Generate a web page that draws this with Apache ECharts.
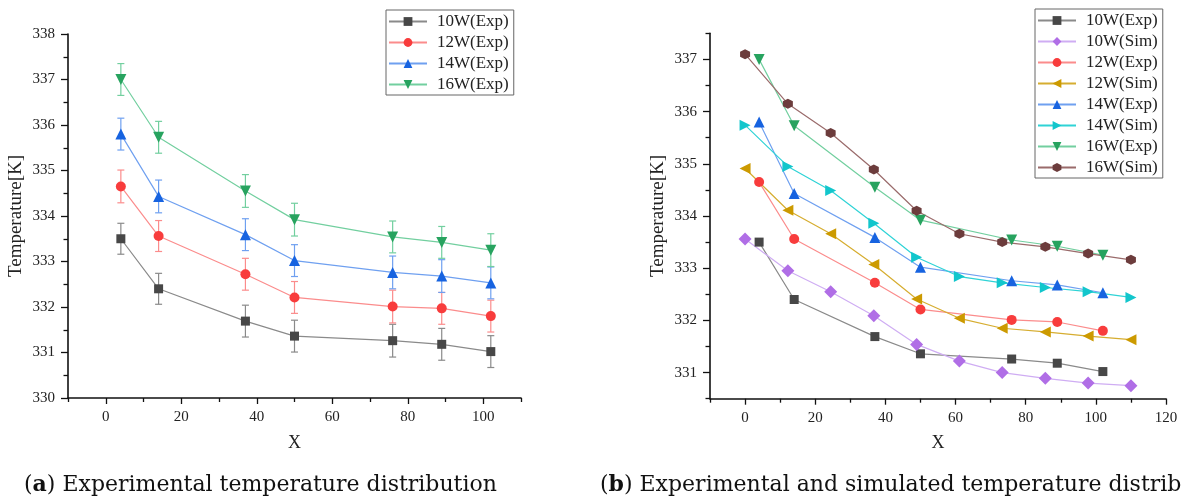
<!DOCTYPE html>
<html>
<head>
<meta charset="utf-8">
<script src="https://cdn.jsdelivr.net/npm/echarts@6/dist/echarts.min.js"></script>
<style>
html,body{margin:0;padding:0;background:#fff;}
#c{width:1182px;height:498px;}
</style>
</head>
<body>
<div id="c"></div>
<script>
// ---------- data ----------
const xExp = [4, 14, 37, 50, 76, 89, 102];
const xSim = [0, 12.2, 24.4, 36.7, 48.9, 61.1, 73.3, 85.6, 97.8, 110];

const exp10 = [333.50, 332.40, 331.69, 331.36, 331.26, 331.18, 331.02];
const exp12 = [334.65, 333.56, 332.72, 332.21, 332.01, 331.97, 331.80];
const exp14 = [335.80, 334.43, 333.59, 333.02, 332.76, 332.68, 332.53];
const exp16 = [337.00, 335.73, 334.55, 333.92, 333.54, 333.42, 333.25];

const err10 = [0.34, 0.34, 0.35, 0.35, 0.36, 0.35, 0.35];
const err12 = [0.36, 0.34, 0.35, 0.35, 0.36, 0.35, 0.35];
const err14 = [0.35, 0.36, 0.35, 0.35, 0.36, 0.36, 0.35];
const err16 = [0.35, 0.35, 0.36, 0.36, 0.35, 0.35, 0.36];

const sim10 = [333.56, 332.95, 332.55, 332.09, 331.54, 331.22, 331.00, 330.89, 330.80, 330.75];
const sim12 = [334.91, 334.11, 333.66, 333.07, 332.41, 332.04, 331.85, 331.78, 331.70, 331.63];
const sim14 = [335.74, 334.95, 334.49, 333.86, 333.21, 332.84, 332.72, 332.63, 332.55, 332.44];
const sim16 = [337.10, 336.15, 335.59, 334.89, 334.10, 333.66, 333.50, 333.41, 333.28, 333.16];

const namesA = ['10W(Exp)', '12W(Exp)', '14W(Exp)', '16W(Exp)'];
const namesB = ['10W(Exp)', '10W(Sim)', '12W(Exp)', '12W(Sim)', '14W(Exp)', '14W(Sim)', '16W(Exp)', '16W(Sim)'];

// tick labels / tick positions
const xTicksA = [0, 20, 40, 60, 80, 100];
const xMinorA = [-10, 10, 30, 50, 70, 90, 110];
const xTicksB = [0, 20, 40, 60, 80, 100, 120];
const xMinorB = [-10, 10, 30, 50, 70, 90, 110];
const yTicksA = [330, 331, 332, 333, 334, 335, 336, 337, 338];
const yMinorA = [330.5, 331.5, 332.5, 333.5, 334.5, 335.5, 336.5, 337.5];
const yTicksB = [331, 332, 333, 334, 335, 336, 337];
const yMinorB = [330.5, 331.5, 332.5, 333.5, 334.5, 335.5, 336.5, 337.5];

// ---------- styles ----------
const SYM = {
  square: 'rect',
  circle: 'circle',
  up: 'path://M5,0L10,9L0,9Z',
  down: 'path://M0,0L10,0L5,9Z',
  left: 'path://M0,5L9,0L9,10Z',
  right: 'path://M9,5L0,0L0,10Z',
  diamond: 'diamond',
  hex: 'path://M5,0L9.33,2.5L9.33,7.5L5,10L0.67,7.5L0.67,2.5Z'
};
const ST = {
  '10W(Exp)': {mk: '#474747', ln: '#8a8a8a', sym: SYM.square, size: 9},
  '12W(Exp)': {mk: '#f83c3c', ln: '#fb8c8c', sym: SYM.circle, size: 10},
  '14W(Exp)': {mk: '#1763e0', ln: '#6fa0f0', sym: SYM.up, size: 11},
  '16W(Exp)': {mk: '#27a35f', ln: '#72cf9f', sym: SYM.down, size: 11},
  '10W(Sim)': {mk: '#b06ee6', ln: '#cfadf3', sym: SYM.diamond, size: 13},
  '12W(Sim)': {mk: '#cc9a00', ln: '#d6ad30', sym: SYM.left, size: 11},
  '14W(Sim)': {mk: '#12c6cc', ln: '#2fd3d6', sym: SYM.right, size: 11},
  '16W(Sim)': {mk: '#6c3c3c', ln: '#9a6b6b', sym: SYM.hex, size: 10}
};
const tickFont = {fontFamily: 'Liberation Serif', fontSize: 15, color: '#222'};
const axisColor = '#111';

function zip(xs, ys) { return xs.map((x, i) => [x, ys[i]]); }
function errData(xs, ys, es) { return xs.map((x, i) => [x, ys[i] - es[i], ys[i] + es[i]]); }

function lineSeries(name, xs, ys, gi) {
  const s = ST[name];
  return {
    type: 'line', name: name, xAxisIndex: gi * 2, yAxisIndex: gi * 2,
    data: zip(xs, ys), symbol: s.sym, symbolSize: s.size, z: 3,
    lineStyle: {color: s.ln, width: 1.2},
    itemStyle: {color: s.mk, borderWidth: 0},
    emphasis: {disabled: true}
  };
}
function errSeries(name, xs, ys, es) {
  const s = ST[name];
  return {
    type: 'custom', name: name + '_err', xAxisIndex: 0, yAxisIndex: 0, z: 2,
    data: errData(xs, ys, es),
    encode: {x: 0, y: [1, 2]},
    renderItem: function (params, api) {
      const x = api.value(0);
      const lo = api.coord([x, api.value(1)]);
      const hi = api.coord([x, api.value(2)]);
      const w = 3.5;
      const st = {stroke: s.ln, lineWidth: 1.2, fill: null};
      return {type: 'group', children: [
        {type: 'line', shape: {x1: lo[0], y1: lo[1], x2: hi[0], y2: hi[1]}, style: st},
        {type: 'line', shape: {x1: hi[0] - w, y1: hi[1], x2: hi[0] + w, y2: hi[1]}, style: st},
        {type: 'line', shape: {x1: lo[0] - w, y1: lo[1], x2: lo[0] + w, y2: lo[1]}, style: st}
      ]};
    },
    silent: true
  };
}

function xAxes(gi, min, max, major, minor) {
  return [
    {type: 'value', gridIndex: gi, min: min, max: max, interval: 10, position: 'bottom',
     name: 'X', nameLocation: 'middle', nameGap: 36,
     nameTextStyle: {fontFamily: 'Liberation Serif', fontSize: 18, color: '#222'},
     axisLine: {show: true, onZero: false, lineStyle: {color: axisColor, width: 1.6}},
     axisTick: {show: true, customValues: major, length: 6, inside: false, lineStyle: {color: axisColor, width: 1.3}},
     axisLabel: {show: true, customValues: major, margin: 12, ...tickFont},
     splitLine: {show: false}},
    {type: 'value', gridIndex: gi, min: min, max: max, interval: 10, position: 'bottom',
     axisLine: {show: false, onZero: false},
     axisTick: {show: true, customValues: minor, length: 4, lineStyle: {color: axisColor, width: 1.3}},
     axisLabel: {show: false}, splitLine: {show: false}}
  ];
}
function yAxes(gi, min, max, major, minor, gap) {
  return [
    {type: 'value', gridIndex: gi, min: min, max: max, interval: 0.5, position: 'left',
     name: 'Temperature[K]', nameLocation: 'middle', nameGap: gap, nameRotate: 90,
     nameTextStyle: {fontFamily: 'Liberation Serif', fontSize: 19, color: '#222'},
     axisLine: {show: true, onZero: false, lineStyle: {color: axisColor, width: 1.6}},
     axisTick: {show: true, customValues: major, length: 7, lineStyle: {color: axisColor, width: 1.3}},
     axisLabel: {show: true, customValues: major, margin: 13, ...tickFont},
     splitLine: {show: false}},
    {type: 'value', gridIndex: gi, min: min, max: max, interval: 0.5, position: 'left',
     axisLine: {show: false, onZero: false},
     axisTick: {show: true, customValues: minor, length: 4.5, lineStyle: {color: axisColor, width: 1.3}},
     axisLabel: {show: false}, splitLine: {show: false}}
  ];
}

function legend(names, left, top, gi) {
  return {
    data: names, left: left, top: top, orient: 'vertical',
    itemWidth: 38, itemHeight: 11, itemGap: 2,
    padding: [2, 5, 1, 2],
    borderColor: '#666', borderWidth: 1, backgroundColor: '#fff',
    selectedMode: false,
    textStyle: {fontFamily: 'Liberation Serif', fontSize: 17, color: '#222', lineHeight: 19, padding: [0, 0, 0, 5]}
  };
}

const series = [];
series.push(errSeries('10W(Exp)', xExp, exp10, err10));
series.push(errSeries('12W(Exp)', xExp, exp12, err12));
series.push(errSeries('14W(Exp)', xExp, exp14, err14));
series.push(errSeries('16W(Exp)', xExp, exp16, err16));
series.push(lineSeries('10W(Exp)', xExp, exp10, 0));
series.push(lineSeries('12W(Exp)', xExp, exp12, 0));
series.push(lineSeries('14W(Exp)', xExp, exp14, 0));
series.push(lineSeries('16W(Exp)', xExp, exp16, 0));

const rightSeries = [
  lineSeries('10W(Exp)', xExp, exp10, 1),
  lineSeries('10W(Sim)', xSim, sim10, 1),
  lineSeries('12W(Exp)', xExp, exp12, 1),
  lineSeries('12W(Sim)', xSim, sim12, 1),
  lineSeries('14W(Exp)', xExp, exp14, 1),
  lineSeries('14W(Sim)', xSim, sim14, 1),
  lineSeries('16W(Exp)', xExp, exp16, 1),
  lineSeries('16W(Sim)', xSim, sim16, 1)
];
series.push(...rightSeries);

const chart = echarts.init(document.getElementById('c'), null, {renderer: 'canvas'});
const capStyle = {fontFamily: 'DejaVu Serif', fontSize: 22, fontWeight: 'normal', color: '#111',
  rich: {b: {fontFamily: 'DejaVu Serif', fontSize: 22, fontWeight: 'bold', color: '#111'}}};
chart.setOption({
  animation: false,
  backgroundColor: '#fff',
  title: [
    {text: '({b|a}) Experimental temperature distribution', left: 24, top: 474, padding: 0, textStyle: capStyle},
    {text: '({b|b}) Experimental and simulated temperature distribution', left: 600, top: 474, padding: 0, textStyle: capStyle}
  ],
  grid: [
    {left: 68, top: 34, width: 453, height: 364, containLabel: false},
    {left: 710, top: 33.3, width: 456, height: 365.4, containLabel: false}
  ],
  xAxis: [...xAxes(0, -10, 110, xTicksA, xMinorA), ...xAxes(1, -10, 120, xTicksB, xMinorB)],
  yAxis: [...yAxes(0, 330, 338, yTicksA, yMinorA, 42), ...yAxes(1, 330.5, 337.5, yTicksB, yMinorB, 42)],
  legend: [legend(namesA, 386, 10, 0), legend(namesB, 1035, 9, 1)],
  series: series
});
</script>
</body>
</html>
